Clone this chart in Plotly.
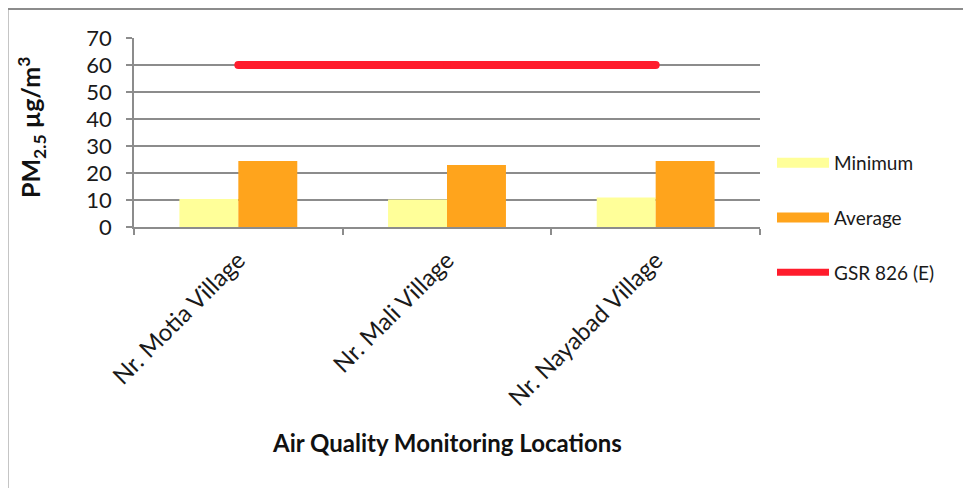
import plotly.graph_objects as go

categories = ["Nr. Motia Village", "Nr. Mali Village", "Nr. Nayabad Village"]
minimum = [10.4, 10.2, 10.9]
average = [24.4, 23.0, 24.4]
gsr_limit = [60, 60, 60]
y_ticks = [0, 10, 20, 30, 40, 50, 60, 70]

C_MIN = "#FFFF99"
C_AVG = "#FFA41C"
C_GSR = "#FF1C2C"
FONT = "Lato, 'Liberation Sans', sans-serif"

W, H = 971, 488
OFF = 8  # page body margin shift
# plot area in reference-pixel coordinates
PX0, PX1, PY0, PY1 = 134, 760, 37.7, 227.3
L = PX0 - OFF
T = PY0 - OFF
pw, ph = PX1 - PX0, PY1 - PY0
R = W - L - pw
B = H - T - ph

fig = go.Figure()
fig.add_trace(go.Bar(x=categories, y=minimum, name="Minimum", marker_color=C_MIN,
                     marker_line_width=0, showlegend=False))
fig.add_trace(go.Bar(x=categories, y=average, name="Average", marker_color=C_AVG,
                     marker_line_width=0, showlegend=False))
fig.add_trace(go.Scatter(x=categories, y=gsr_limit, name="GSR 826 (E)", mode="lines+markers",
                         line=dict(color=C_GSR, width=8), marker=dict(color=C_GSR, size=8),
                         showlegend=False))
# legend entries
for name, col in [("Minimum", C_MIN), ("Average", C_AVG), ("GSR 826 (E)", C_GSR)]:
    fig.add_trace(go.Scatter(x=[None], y=[None], name=name, mode="lines",
                             line=dict(color=col, width=12 if name != "GSR 826 (E)" else 7),
                             legendgroup=name, showlegend=True))


def px_x(p):
    return (p - PX0) / pw


def px_y(p):
    return (PY1 - p) / ph


fig.update_layout(
    width=W, height=H,
    margin=dict(l=L, r=R, t=T, b=B, autoexpand=False),
    paper_bgcolor="white", plot_bgcolor="white",
    barmode="group", bargap=0.435, bargroupgap=0,
    font=dict(family=FONT, color="#1a1a1a"),
    legend=dict(x=px_x(772), y=px_y(144), xanchor="left", yanchor="top",
                font=dict(size=19, family=FONT, color="#1a1a1a"),
                itemwidth=52, tracegroupgap=27, bgcolor="rgba(0,0,0,0)"),
    xaxis=dict(showline=True, linecolor="#8c8c8c", linewidth=1.5,
               ticks="outside", ticklen=6, tickcolor="#8c8c8c", tickwidth=1.5,
               tickson="boundaries", tickangle=-45,
               tickfont=dict(size=24, family=FONT, color="#1a1a1a"),
               ticklabelstandoff=8,
               automargin=False),
    yaxis=dict(range=[0, 70], tickvals=y_ticks, showline=True, linecolor="#8c8c8c",
               linewidth=1.5, ticks="outside", ticklen=6, tickcolor="#8c8c8c",
               tickwidth=1.5, showgrid=True, gridcolor="#8c8c8c", gridwidth=1.5,
               tickfont=dict(size=22, family=FONT, color="#1a1a1a"),
               ticklabelstandoff=10,
               automargin=False, zeroline=False),
    annotations=[
        dict(text="<b>PM<sub>2.5</sub> µg/m<sup>3</sup></b>", textangle=-90,
             x=px_x(31), y=px_y(128), xref="paper", yref="paper",
             xanchor="center", yanchor="middle",
             showarrow=False, font=dict(size=25, family=FONT, color="#111")),
        dict(text="<b>Air Quality Monitoring Locations</b>",
             x=px_x(447), y=px_y(443), xref="paper", yref="paper",
             xanchor="center", yanchor="middle",
             showarrow=False, font=dict(size=24, family=FONT, color="#111")),
    ],
    shapes=[
        dict(type="rect", xref="paper", yref="paper",
             x0=px_x(7.5), x1=px_x(1000), y0=px_y(8.5), y1=px_y(520),
             line=dict(color="#8c8c8c", width=2), fillcolor="rgba(0,0,0,0)", layer="below"),
    ],
)

fig.write_html("out.html")
